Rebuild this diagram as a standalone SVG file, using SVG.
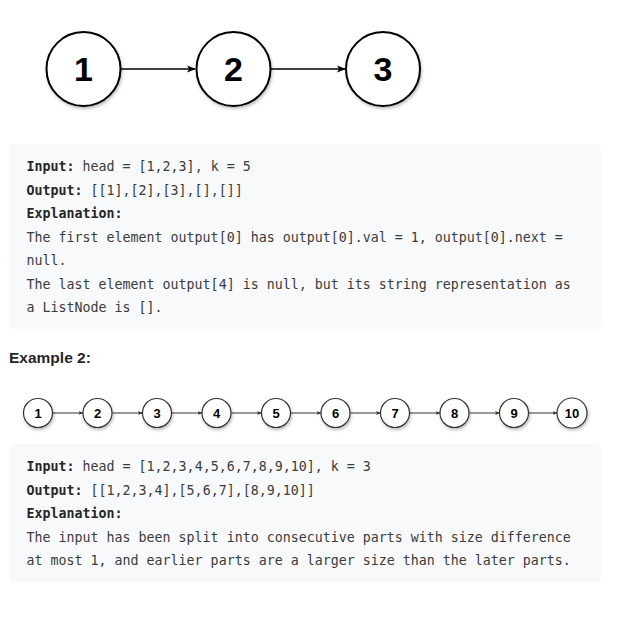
<svg xmlns="http://www.w3.org/2000/svg" width="618" height="621" viewBox="0 0 618 621">
<style>
.big circle{fill:#fff;stroke:#000;stroke-width:2}
.big text{font-family:"Liberation Sans",Arial,sans-serif;font-weight:bold;font-size:34px;text-anchor:middle;fill:#000}
.sm circle{fill:#fff;stroke:#333;stroke-width:1.2}
.sm text{font-family:"Liberation Sans",Arial,sans-serif;font-weight:bold;font-size:13px;text-anchor:middle;fill:#000}
.code{fill:#f7f9fa}
.mono{font-family:"DejaVu Sans Mono","Liberation Mono",monospace;font-size:13.3px;fill:#3c3c3c}
.mono .b{font-weight:bold;fill:#262626}
.h{font-family:"Liberation Sans",Arial,sans-serif;font-weight:bold;font-size:15.5px;fill:#262626}
</style>
<defs>
<marker id="ab" viewBox="0 0 10 10" refX="9" refY="5" markerWidth="9" markerHeight="9" markerUnits="userSpaceOnUse" orient="auto"><path d="M0,1 L10,5 L0,9 L2.5,5 Z" fill="#000"/></marker>
<marker id="as" viewBox="0 0 10 10" refX="9" refY="5" markerWidth="5" markerHeight="5" markerUnits="userSpaceOnUse" orient="auto"><path d="M0,1 L10,5 L0,9 L2.5,5 Z" fill="#333"/></marker>
<filter id="sh" x="-20%" y="-20%" width="140%" height="150%"><feDropShadow dx="1" dy="2" stdDeviation="1.5" flood-color="#000" flood-opacity="0.25"/></filter>
</defs>
<rect width="618" height="621" fill="#fff"/>
<g id="connectors">
<line x1="121" y1="69" x2="195" y2="69" stroke="#000" stroke-width="1.5" marker-end="url(#ab)"/>
<line x1="271" y1="69" x2="345" y2="69" stroke="#000" stroke-width="1.5" marker-end="url(#ab)"/>
<g stroke="#555" stroke-width="1.2" marker-end="url(#as)">
<line x1="53" y1="413" x2="83" y2="413"/>
<line x1="112.5" y1="413" x2="142.5" y2="413"/>
<line x1="172" y1="413" x2="202" y2="413"/>
<line x1="231.5" y1="413" x2="261.5" y2="413"/>
<line x1="291" y1="413" x2="321" y2="413"/>
<line x1="350.5" y1="413" x2="380.5" y2="413"/>
<line x1="410" y1="413" x2="440" y2="413"/>
<line x1="469.5" y1="413" x2="499.5" y2="413"/>
<line x1="529" y1="413" x2="557" y2="413"/>
</g>
</g>
<g class="big">
<g id="n1"><circle cx="83.5" cy="69" r="37" filter="url(#sh)"/><text x="83.5" y="81">1</text></g>
<g id="n2"><circle cx="233.5" cy="69" r="37" filter="url(#sh)"/><text x="233.5" y="81">2</text></g>
<g id="n3"><circle cx="383" cy="69" r="37" filter="url(#sh)"/><text x="383" y="81">3</text></g>
</g>
<g id="block1">
<rect class="code" x="9" y="144" width="592" height="185" rx="5"/>
<text class="mono" x="26.5" y="171"><tspan class="b">Input:</tspan> head = [1,2,3], k = 5</text>
<text class="mono" x="26.5" y="195"><tspan class="b">Output:</tspan> [[1],[2],[3],[],[]]</text>
<text class="mono" x="26.5" y="218"><tspan class="b">Explanation:</tspan></text>
<text class="mono" x="26.5" y="242">The first element output[0] has output[0].val = 1, output[0].next =</text>
<text class="mono" x="26.5" y="265">null.</text>
<text class="mono" x="26.5" y="289">The last element output[4] is null, but its string representation as</text>
<text class="mono" x="26.5" y="312">a ListNode is [].</text>
</g>
<text class="h" x="9" y="363">Example 2:</text>
<g class="sm">
<g id="m1"><circle cx="38" cy="413" r="14.5" filter="url(#sh)"/><text x="38" y="417.5">1</text></g>
<g id="m2"><circle cx="97.5" cy="413" r="14.5" filter="url(#sh)"/><text x="97.5" y="417.5">2</text></g>
<g id="m3"><circle cx="157" cy="413" r="14.5" filter="url(#sh)"/><text x="157" y="417.5">3</text></g>
<g id="m4"><circle cx="216.5" cy="413" r="14.5" filter="url(#sh)"/><text x="216.5" y="417.5">4</text></g>
<g id="m5"><circle cx="276" cy="413" r="14.5" filter="url(#sh)"/><text x="276" y="417.5">5</text></g>
<g id="m6"><circle cx="335.5" cy="413" r="14.5" filter="url(#sh)"/><text x="335.5" y="417.5">6</text></g>
<g id="m7"><circle cx="395" cy="413" r="14.5" filter="url(#sh)"/><text x="395" y="417.5">7</text></g>
<g id="m8"><circle cx="454.5" cy="413" r="14.5" filter="url(#sh)"/><text x="454.5" y="417.5">8</text></g>
<g id="m9"><circle cx="514" cy="413" r="14.5" filter="url(#sh)"/><text x="514" y="417.5">9</text></g>
<g id="m10"><circle cx="572" cy="413" r="15" filter="url(#sh)"/><text x="572" y="417.5">10</text></g>
</g>
<g id="block2">
<rect class="code" x="9" y="444" width="592" height="139" rx="5"/>
<text class="mono" x="26.5" y="471"><tspan class="b">Input:</tspan> head = [1,2,3,4,5,6,7,8,9,10], k = 3</text>
<text class="mono" x="26.5" y="495"><tspan class="b">Output:</tspan> [[1,2,3,4],[5,6,7],[8,9,10]]</text>
<text class="mono" x="26.5" y="518"><tspan class="b">Explanation:</tspan></text>
<text class="mono" x="26.5" y="542">The input has been split into consecutive parts with size difference</text>
<text class="mono" x="26.5" y="565">at most 1, and earlier parts are a larger size than the later parts.</text>
</g>
</svg>
